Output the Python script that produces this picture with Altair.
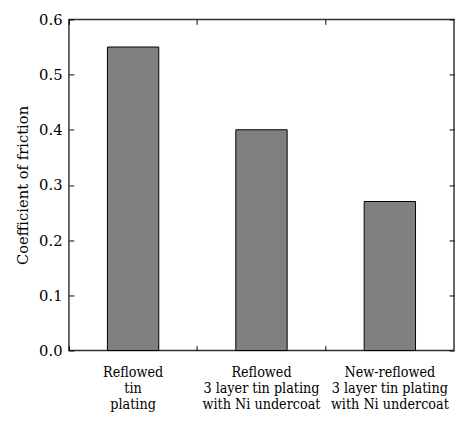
import altair as alt
import pandas as pd

categories = [
    "Reflowed|tin|plating",
    "Reflowed|3 layer tin plating|with Ni undercoat",
    "New-reflowed|3 layer tin plating|with Ni undercoat",
]
values = [0.55, 0.40, 0.27]
y_ticks = [0.0, 0.1, 0.2, 0.3, 0.4, 0.5, 0.6]

df = pd.DataFrame({"cat": categories, "cof": values})

FONT = "DejaVu Serif"
XFONT = "DejaVu Serif Condensed"

xscale = alt.Scale(paddingInner=0, paddingOuter=0)
yscale = alt.Scale(domain=[0, 0.6], nice=False)

bars = alt.Chart(df).mark_bar(
    width=alt.RelativeBandSize(0.4), color="#808080", stroke="black", strokeWidth=1
).encode(
    x=alt.X("cat:N", sort=categories, scale=xscale, axis=alt.Axis(
        orient="bottom", title=None, bandPosition=0, offset=-5, tickSize=5,
        domain=False, labelAngle=0, labelPadding=15, tickColor="black",
        labelExpr="split(datum.label, '|')", labelFont=XFONT, labelFontSize=14.5,
        labelLineHeight=16.5, labelColor="black", labelBaseline="top",
    )),
    y=alt.Y("cof:Q", scale=yscale, axis=alt.Axis(
        orient="left", title="Coefficient of friction", values=y_ticks, format=".1f",
        offset=-5, tickSize=5, domain=False, labelPadding=7, tickColor="black",
        labelFont=FONT, labelFontSize=15, labelColor="black",
        titleFont=FONT, titleFontSize=15, titleFontWeight="normal",
        titleColor="black", titlePadding=8, grid=False,
    )),
)

frame_axes = alt.Chart(df).mark_bar(opacity=0, width=alt.RelativeBandSize(0.4)).encode(
    x=alt.X("cat:N", sort=categories, scale=xscale, axis=alt.Axis(
        orient="top", title=None, bandPosition=0, offset=-5, tickSize=5,
        domain=False, labels=False, tickColor="black",
    )),
    y=alt.Y("cof:Q", scale=yscale, axis=alt.Axis(
        orient="right", title=None, values=y_ticks, offset=-5, tickSize=5,
        domain=False, labels=False, tickColor="black", grid=False,
    )),
)

chart = alt.layer(bars, frame_axes).resolve_axis(
    x="independent", y="independent"
).properties(
    width=392, height=337,
    autosize=alt.AutoSizeParams(type="none"),
    padding={"left": 62, "top": 8, "right": 2, "bottom": 60},
    background="white",
).configure_view(stroke="#333333", strokeWidth=1.5)

chart.save("out.html", embed_options={"renderer": "svg", "actions": False})
